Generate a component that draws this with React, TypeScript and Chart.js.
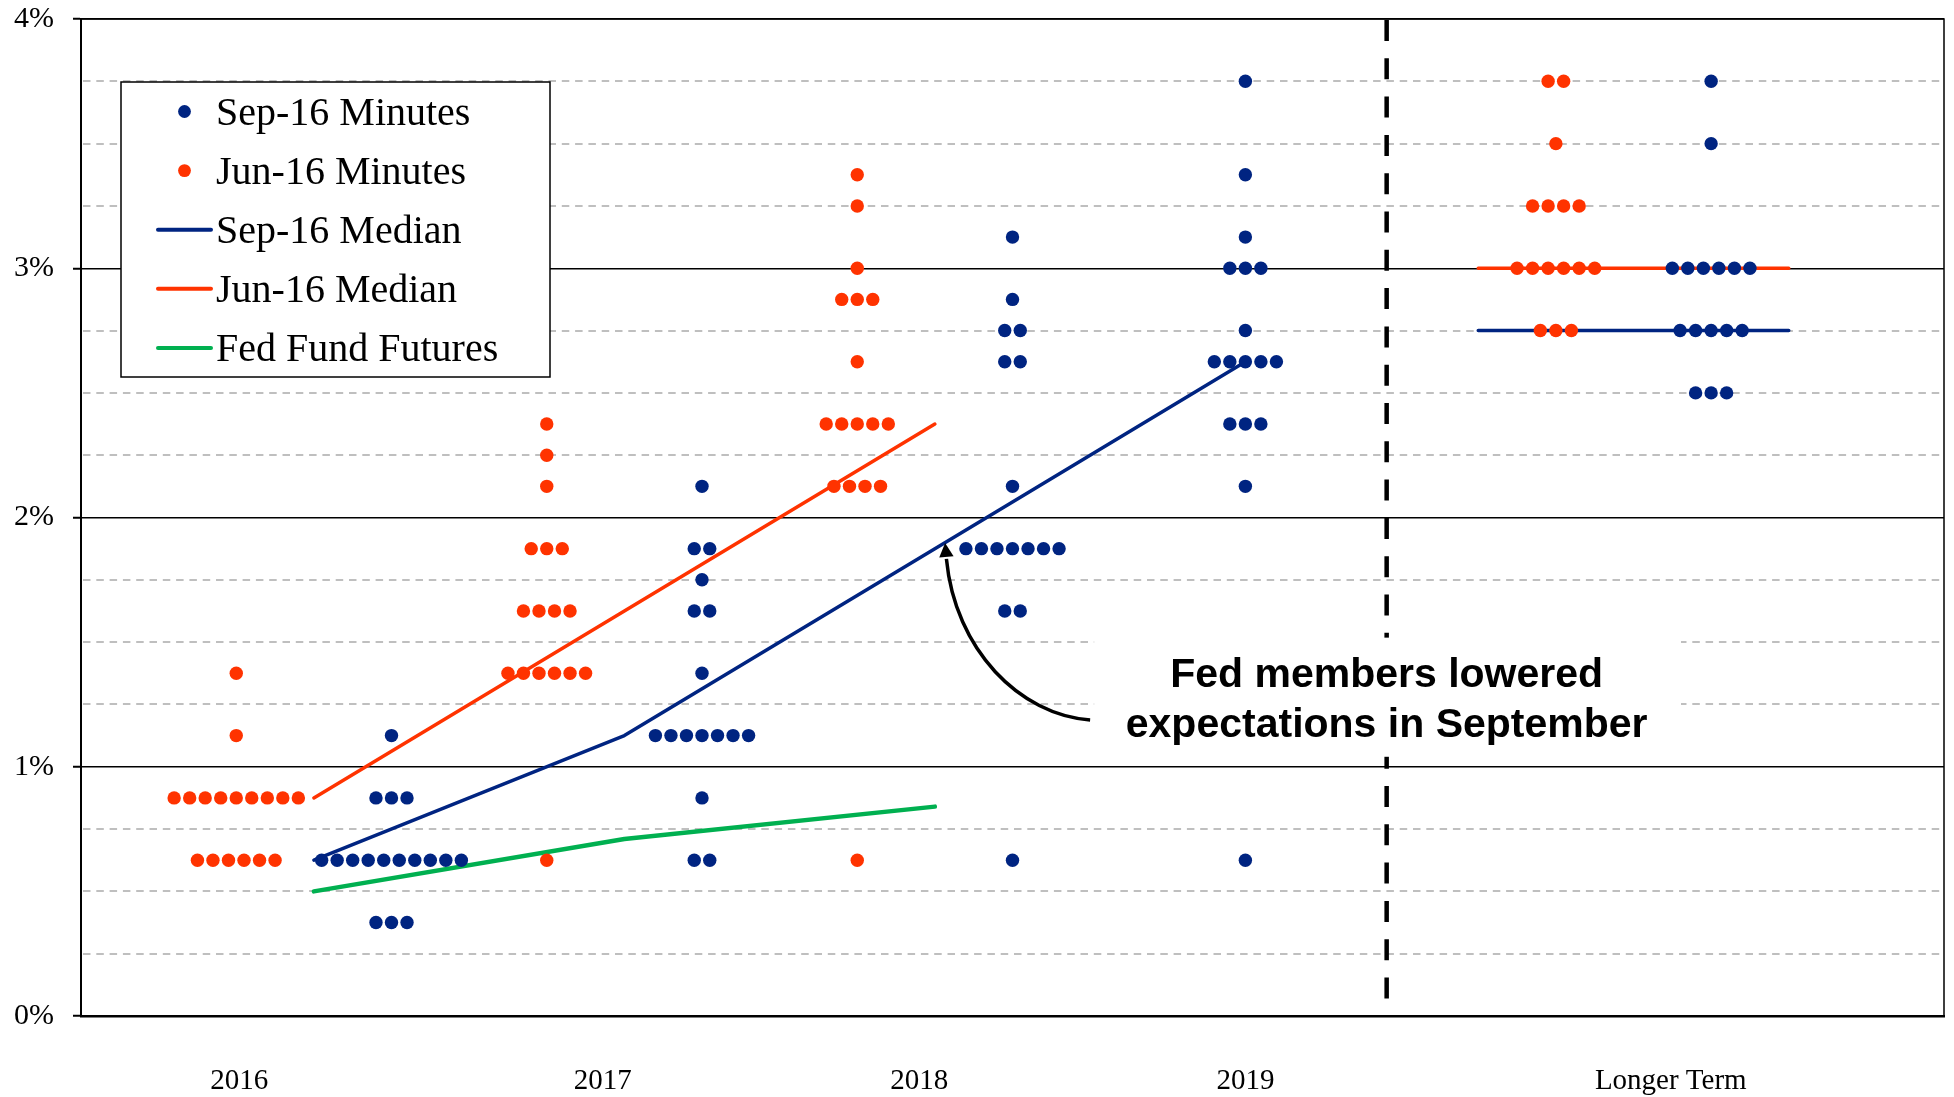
import React, { useEffect, useRef } from 'react';
import { Chart, registerables } from 'chart.js';

Chart.register(...registerables);

// ---------- colours ----------
const BLUE = '#002481';
const ORANGE = '#FF3300';
const GREEN = '#00B050';

// ---------- x axis (year units) ----------
const X_MIN = 2015.25;
const X_MAX = 2021.25;
const DOT_STEP = 0.05;
const SEPARATOR_X = 2019.455;

const X_TICK_POS = [2015.76, 2016.93, 2017.95, 2019.0, 2020.37];
const X_TICK_LABELS = ['2016', '2017', '2018', '2019', 'Longer Term'];

// ---------- Sep-16 dots (rate levels and number of participants) ----------
const SEP_2016_X = 2016.25;
const SEP_2016_RATES = [0.375, 0.625, 0.875, 1.125];
const SEP_2016_COUNTS = [3, 10, 3, 1];

const SEP_2017_X = 2017.25;
const SEP_2017_RATES = [0.625, 0.875, 1.125, 1.375, 1.625, 1.75, 1.875, 2.125];
const SEP_2017_COUNTS = [2, 1, 7, 1, 2, 1, 2, 1];

const SEP_2018_X = 2018.25;
const SEP_2018_RATES = [0.625, 1.625, 1.875, 2.125, 2.625, 2.75, 2.875, 3.125];
const SEP_2018_COUNTS = [1, 2, 7, 1, 2, 2, 1, 1];

const SEP_2019_X = 2019.0;
const SEP_2019_RATES = [0.625, 2.125, 2.375, 2.625, 2.75, 3.0, 3.125, 3.375, 3.75];
const SEP_2019_COUNTS = [1, 1, 3, 5, 1, 3, 1, 1, 1];

const SEP_LT_X = 2020.5;
const SEP_LT_RATES = [2.5, 2.75, 3.0, 3.5, 3.75];
const SEP_LT_COUNTS = [3, 5, 6, 1, 1];

// ---------- Jun-16 dots ----------
const JUN_2016_X = 2015.75;
const JUN_2016_RATES = [0.625, 0.875, 1.125, 1.375];
const JUN_2016_COUNTS = [6, 9, 1, 1];

const JUN_2017_X = 2016.75;
const JUN_2017_RATES = [0.625, 1.375, 1.625, 1.875, 2.125, 2.25, 2.375];
const JUN_2017_COUNTS = [1, 6, 4, 3, 1, 1, 1];

const JUN_2018_X = 2017.75;
const JUN_2018_RATES = [0.625, 2.125, 2.375, 2.625, 2.875, 3.0, 3.25, 3.375];
const JUN_2018_COUNTS = [1, 4, 5, 1, 3, 1, 1, 1];

const JUN_LT_X = 2020.0;
const JUN_LT_RATES = [2.75, 3.0, 3.25, 3.5, 3.75];
const JUN_LT_COUNTS = [3, 6, 4, 1, 2];

// ---------- medians and futures ----------
const MEDIAN_YEARS = [2016, 2017, 2018, 2019];
const SEP_MEDIAN = [0.625, 1.125, 1.875, 2.625];
const JUN_MEDIAN = [0.875, 1.625, 2.375];
const FUTURES = [0.5, 0.71, 0.84];
const LT_SPAN = [2019.75, 2020.75];
const LT_GAP_X = 2019.5;
const SEP_MEDIAN_LT = 2.75;
const JUN_MEDIAN_LT = 3.0;

// ---------- annotation (data units) ----------
const NOTE_LINES = ['Fed members lowered', 'expectations in September'];
const NOTE_X = 2019.455;
const NOTE_BASELINES = [1.321, 1.121];
const NOTE_BOX = { x0: 2018.513, x1: 2020.403, y0: 1.04, y1: 1.518 };
const ARROW = {
  tail: [2018.5, 1.188],
  c1: [2018.274, 1.208],
  c2: [2018.065, 1.468],
  tip: [2018.033, 1.898],
};

function column(center: number, rates: number[], counts: number[]) {
  const pts: { x: number; y: number }[] = [];
  rates.forEach((r, i) => {
    const n = counts[i];
    for (let k = 0; k < n; k++) {
      pts.push({ x: center + (k - (n - 1) / 2) * DOT_STEP, y: r });
    }
  });
  return pts;
}

const sepDots = [
  ...column(SEP_2016_X, SEP_2016_RATES, SEP_2016_COUNTS),
  ...column(SEP_2017_X, SEP_2017_RATES, SEP_2017_COUNTS),
  ...column(SEP_2018_X, SEP_2018_RATES, SEP_2018_COUNTS),
  ...column(SEP_2019_X, SEP_2019_RATES, SEP_2019_COUNTS),
  ...column(SEP_LT_X, SEP_LT_RATES, SEP_LT_COUNTS),
];
const junDots = [
  ...column(JUN_2016_X, JUN_2016_RATES, JUN_2016_COUNTS),
  ...column(JUN_2017_X, JUN_2017_RATES, JUN_2017_COUNTS),
  ...column(JUN_2018_X, JUN_2018_RATES, JUN_2018_COUNTS),
  ...column(JUN_LT_X, JUN_LT_RATES, JUN_LT_COUNTS),
];
const sepMedianPts = [
  ...SEP_MEDIAN.map((v, i) => ({ x: MEDIAN_YEARS[i], y: v as number | null })),
  { x: LT_GAP_X, y: null },
  ...LT_SPAN.map((x) => ({ x, y: SEP_MEDIAN_LT as number | null })),
];
const junMedianPts = [
  ...JUN_MEDIAN.map((v, i) => ({ x: MEDIAN_YEARS[i], y: v as number | null })),
  { x: LT_GAP_X, y: null },
  ...LT_SPAN.map((x) => ({ x, y: JUN_MEDIAN_LT as number | null })),
];
const futuresPts = FUTURES.map((v, i) => ({ x: MEDIAN_YEARS[i], y: v }));

const SERIF = '"Liberation Serif", "Times New Roman", serif';
const SANS = '"Liberation Sans", Arial, sans-serif';

const backdropPlugin = {
  id: 'backdrop',
  beforeDatasetsDraw(chart: any) {
    const { ctx, chartArea, scales } = chart;
    const xs = scales.x;
    const ys = scales.y;
    ctx.save();
    // minor dashed grid lines
    ctx.strokeStyle = '#BFBFBF';
    ctx.lineWidth = 2;
    ctx.setLineDash([7.5, 5.8]);
    for (let v = 0.25; v < 4; v += 0.25) {
      if (Math.abs(v - Math.round(v)) < 1e-6) continue;
      const y = Math.round(ys.getPixelForValue(v));
      ctx.beginPath();
      ctx.moveTo(chartArea.left + 2, y);
      ctx.lineTo(chartArea.right, y);
      ctx.stroke();
    }
    // top and right frame
    ctx.setLineDash([]);
    ctx.strokeStyle = '#000';
    ctx.lineWidth = 1.5;
    ctx.beginPath();
    ctx.moveTo(chartArea.left, chartArea.top);
    ctx.lineTo(chartArea.right, chartArea.top);
    ctx.lineTo(chartArea.right, chartArea.bottom);
    ctx.stroke();
    // separator
    const sx = xs.getPixelForValue(SEPARATOR_X);
    ctx.lineWidth = 4.5;
    ctx.setLineDash([21, 17.3]);
    ctx.beginPath();
    ctx.moveTo(sx, chartArea.top + 1);
    ctx.lineTo(sx, chartArea.bottom);
    ctx.stroke();
    ctx.setLineDash([]);
    // note box
    const bx0 = xs.getPixelForValue(NOTE_BOX.x0);
    const bx1 = xs.getPixelForValue(NOTE_BOX.x1);
    const by0 = ys.getPixelForValue(NOTE_BOX.y1);
    const by1 = ys.getPixelForValue(NOTE_BOX.y0);
    ctx.fillStyle = '#fff';
    ctx.fillRect(bx0, by0, bx1 - bx0, by1 - by0);
    ctx.fillStyle = '#000';
    ctx.font = `bold 41px ${SANS}`;
    ctx.textAlign = 'center';
    ctx.textBaseline = 'alphabetic';
    NOTE_LINES.forEach((t, i) => {
      ctx.fillText(t, xs.getPixelForValue(NOTE_X), ys.getPixelForValue(NOTE_BASELINES[i]));
    });
    ctx.restore();
  },
  afterDatasetsDraw(chart: any) {
    const { ctx, scales } = chart;
    const xs = scales.x;
    const ys = scales.y;
    const p = (a: number[]) => [xs.getPixelForValue(a[0]), ys.getPixelForValue(a[1])];
    const t0 = p(ARROW.tail);
    const c1 = p(ARROW.c1);
    const c2 = p(ARROW.c2);
    const tip = p(ARROW.tip);
    const dx = tip[0] - c2[0];
    const dy = tip[1] - c2[1];
    const len = Math.hypot(dx, dy);
    const ux = dx / len;
    const uy = dy / len;
    const headLen = 14;
    const headHalf = 7.2;
    const base = [tip[0] - ux * headLen, tip[1] - uy * headLen];
    ctx.save();
    ctx.strokeStyle = '#000';
    ctx.lineWidth = 3.5;
    ctx.beginPath();
    ctx.moveTo(t0[0], t0[1]);
    ctx.bezierCurveTo(c1[0], c1[1], c2[0], c2[1], base[0], base[1] + 2);
    ctx.stroke();
    ctx.fillStyle = '#000';
    ctx.beginPath();
    ctx.moveTo(tip[0], tip[1]);
    ctx.lineTo(base[0] - uy * headHalf, base[1] + ux * headHalf);
    ctx.lineTo(base[0] + uy * headHalf, base[1] - ux * headHalf);
    ctx.closePath();
    ctx.fill();
    ctx.restore();
  },
  afterDraw(chart: any) {
    const { ctx, chartArea } = chart;
    const x0 = chartArea.left + 40;
    const y0 = chartArea.top + 63;
    const w = 429;
    const h = 295;
    ctx.save();
    ctx.fillStyle = '#fff';
    ctx.fillRect(x0, y0, w, h);
    ctx.strokeStyle = '#000';
    ctx.lineWidth = 1.5;
    ctx.strokeRect(x0, y0, w, h);
    ctx.font = `40px ${SERIF}`;
    ctx.textAlign = 'left';
    ctx.textBaseline = 'alphabetic';
    chart.data.datasets.forEach((ds: any, i: number) => {
      const cy = y0 + 29.5 + i * 59.1;
      if (ds.type === 'scatter') {
        ctx.fillStyle = ds.pointBackgroundColor;
        ctx.beginPath();
        ctx.arc(x0 + 63.5, cy, 6.4, 0, Math.PI * 2);
        ctx.fill();
      } else {
        ctx.strokeStyle = ds.borderColor;
        ctx.lineWidth = 4;
        ctx.lineCap = 'round';
        ctx.beginPath();
        ctx.moveTo(x0 + 37, cy);
        ctx.lineTo(x0 + 90, cy);
        ctx.stroke();
      }
      ctx.fillStyle = '#000';
      ctx.fillText(ds.label, x0 + 95, cy + 13.2);
    });
    ctx.restore();
  },
};

export default function App() {
  const ref = useRef<HTMLCanvasElement | null>(null);
  useEffect(() => {
    if (!ref.current) return;
    const chart = new Chart(ref.current, {
      type: 'scatter',
      data: {
        datasets: [
          {
            type: 'scatter',
            label: 'Sep-16 Minutes',
            data: sepDots,
            pointRadius: 6.7,
            pointBackgroundColor: BLUE,
            pointBorderWidth: 0,
            borderColor: BLUE,
            showLine: false,
            order: 0,
          },
          {
            type: 'scatter',
            label: 'Jun-16 Minutes',
            data: junDots,
            pointRadius: 6.7,
            pointBackgroundColor: ORANGE,
            pointBorderWidth: 0,
            borderColor: ORANGE,
            showLine: false,
            order: 0,
          },
          {
            type: 'line',
            label: 'Sep-16 Median',
            data: sepMedianPts,
            borderColor: BLUE,
            borderWidth: 3.5,
            pointRadius: 0,
            fill: false,
            tension: 0,
            spanGaps: false,
            borderCapStyle: 'round',
            borderJoinStyle: 'round',
            order: 1,
          },
          {
            type: 'line',
            label: 'Jun-16 Median',
            data: junMedianPts,
            borderColor: ORANGE,
            borderWidth: 3.5,
            pointRadius: 0,
            fill: false,
            tension: 0,
            spanGaps: false,
            borderCapStyle: 'round',
            borderJoinStyle: 'round',
            order: 1,
          },
          {
            type: 'line',
            label: 'Fed Fund Futures',
            data: futuresPts,
            borderColor: GREEN,
            borderWidth: 4.5,
            pointRadius: 0,
            fill: false,
            tension: 0,
            borderCapStyle: 'round',
            borderJoinStyle: 'round',
            order: 1,
          },
        ] as any,
      },
      options: {
        responsive: false,
        maintainAspectRatio: false,
        animation: false,
        events: [],
        layout: { padding: { top: 19, right: 10, left: 0, bottom: 0 } },
        plugins: {
          legend: { display: false },
          tooltip: { enabled: false },
        },
        scales: {
          x: {
            type: 'linear',
            min: X_MIN,
            max: X_MAX,
            afterBuildTicks: (s: any) => {
              s.ticks = X_TICK_POS.map((v) => ({ value: v }));
            },
            afterFit: (s: any) => {
              s.height = 81;
              s.paddingLeft = 0;
              s.paddingRight = 0;
            },
            ticks: {
              autoSkip: false,
              maxRotation: 0,
              padding: 48,
              color: '#000',
              font: { family: SERIF, size: 29 },
              callback: (_v: any, i: number) => X_TICK_LABELS[i],
            },
            grid: { display: false, drawTicks: false },
            border: { color: '#000', width: 2.5 },
          },
          y: {
            type: 'linear',
            min: 0,
            max: 4,
            afterFit: (s: any) => {
              s.width = 81;
              s.paddingTop = 0;
              s.paddingBottom = 0;
            },
            ticks: {
              stepSize: 1,
              padding: 19,
              color: '#000',
              font: { family: SERIF, size: 30 },
              callback: (v: any) => `${v}%`,
            },
            grid: {
              color: '#000',
              lineWidth: 1.5,
              tickLength: 8,
              tickWidth: 2,
              tickColor: '#000',
            },
            border: { color: '#000', width: 2 },
          },
        },
      } as any,
      plugins: [backdropPlugin],
    });
    return () => chart.destroy();
  }, []);

  return (
    <div style={{ position: 'fixed', left: 0, top: 0, width: 1954, height: 1097, background: '#fff' }}>
      <canvas ref={ref} width={1954} height={1097} style={{ display: 'block', width: 1954, height: 1097 }} />
    </div>
  );
}
